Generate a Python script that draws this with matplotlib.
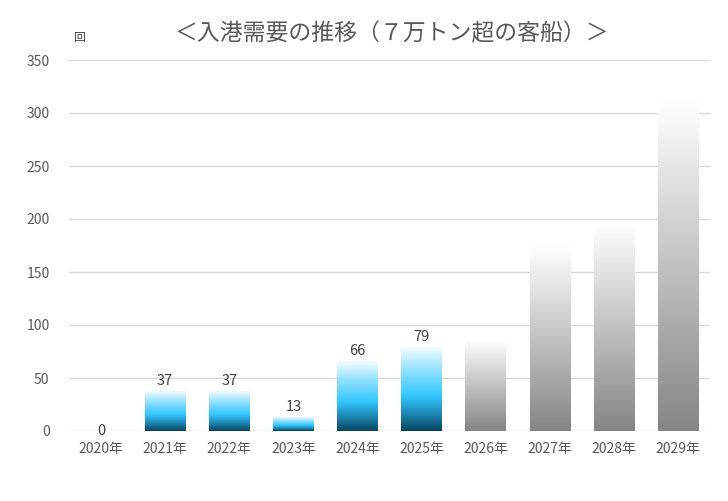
import matplotlib
matplotlib.use("Agg")
import matplotlib.pyplot as plt
import numpy as np
from matplotlib.colors import LinearSegmentedColormap

plt.rcParams['font.family'] = ['Noto Sans CJK JP', 'DejaVu Sans']

years = ["2020年", "2021年", "2022年", "2023年", "2024年", "2025年",
         "2026年", "2027年", "2028年", "2029年"]
actual = [0, 37, 37, 13, 66, 79]
forecast = [86, 175, 197, 313]
yticks = [0, 50, 100, 150, 200, 250, 300, 350]
title = "＜入港需要の推移（７万トン超の客船）＞"
unit = "回"

values = actual + forecast
n_actual = len(actual)

blue_cmap = LinearSegmentedColormap.from_list(
    "blue", [(0.0, "#07445e"), (0.18, "#1a7fa8"), (0.42, "#33c7ff"),
             (0.72, "#8fe0ff"), (1.0, "#f2fbff")])
gray_cmap = LinearSegmentedColormap.from_list(
    "gray", [(0.0, "#858585"), (1.0, "#ffffff")])

fig = plt.figure(figsize=(7.28, 5.01), dpi=100)
ax = fig.add_axes([69/728, 70/501, 641/728, 371/501])

x = np.arange(len(years))
width = 0.63
bars = ax.bar(x, values, width, color='none', edgecolor='none', zorder=2)

grad = np.linspace(0, 1, 256).reshape(-1, 1)
for i, b in enumerate(bars):
    h = b.get_height()
    if h <= 0:
        continue
    x0 = b.get_x()
    cmap = blue_cmap if i < n_actual else gray_cmap
    ax.imshow(grad, cmap=cmap, origin='lower', aspect='auto',
              extent=(x0, x0 + b.get_width(), 0, h), zorder=2,
              interpolation='bilinear')

for i in range(n_actual):
    if actual[i] == 0:
        ax.annotate(str(actual[i]), (x[i], actual[i]), xytext=(0, 0),
                    textcoords='offset points', ha='center', va='center',
                    fontsize=10.5, color='#404040')
    else:
        ax.annotate(str(actual[i]), (x[i], actual[i]), xytext=(0, 2.5),
                    textcoords='offset points', ha='center', va='bottom',
                    fontsize=10.5, color='#404040')

ax.set_xlim(-0.5, len(years) - 0.5)
ax.set_ylim(0, 350)
ax.set_yticks(yticks)
ax.set_xticks(x)
ax.set_xticklabels(years)
ax.grid(axis='y', color='#d9d9d9', linewidth=1, zorder=0)
ax.set_axisbelow(True)
for s in ax.spines.values():
    s.set_visible(False)
ax.tick_params(axis='both', length=0, colors='#595959', labelsize=10)
ax.tick_params(axis='y', pad=14)
ax.tick_params(axis='x', pad=8)

fig.text(392/728, 1 - 34/501, title, ha='center', va='center',
         fontsize=16.5, color='#595959')
fig.text(79/728, 1 - 37/501, unit, ha='center', va='center',
         fontsize=8.5, color='#404040')

fig.savefig("out.png", dpi=100)
